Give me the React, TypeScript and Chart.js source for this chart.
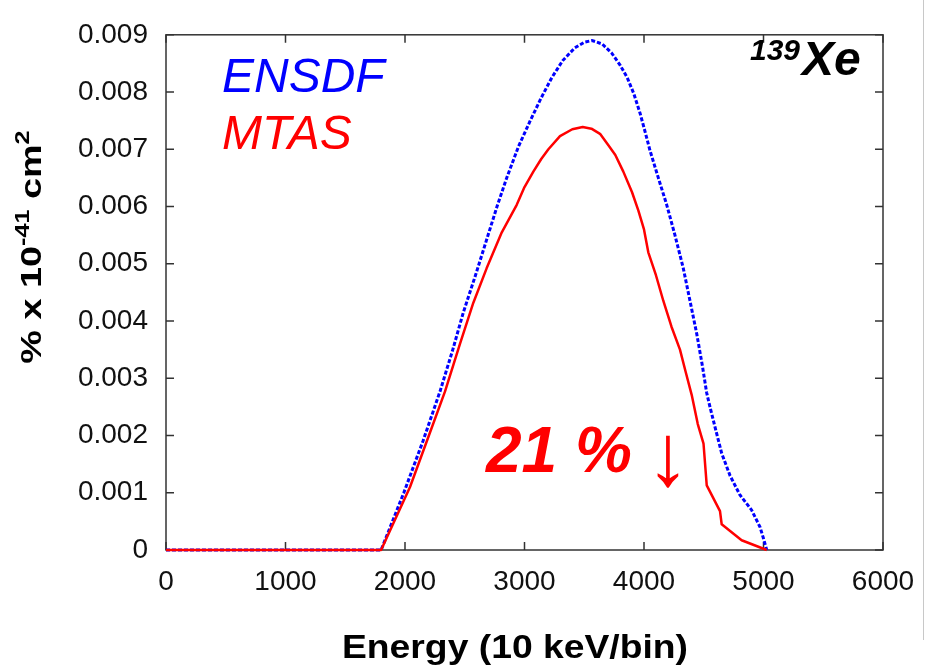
import React, { useEffect, useRef } from "react";
import { Chart, registerables } from "chart.js";

Chart.register(...registerables);

// ---- data ----
const ensdfEnergy = [0, 1800, 1990, 2150, 2293, 2400, 2488, 2590, 2680, 2770, 2851, 2950, 3046, 3140, 3228, 3320, 3420, 3500, 3565, 3650, 3730, 3800, 3860, 3915, 3967, 4010, 4050, 4120, 4190, 4259, 4329, 4390, 4441, 4490, 4524, 4552, 4600, 4650, 4720, 4803, 4900, 4971, 5000, 5027];
const ensdfValue = [0, 0, 0.001, 0.0019, 0.00277, 0.0035, 0.00415, 0.0048, 0.0054, 0.006, 0.0065, 0.00705, 0.00749, 0.0079, 0.00825, 0.00855, 0.00877, 0.00887, 0.0089, 0.00884, 0.00868, 0.00847, 0.00825, 0.00797, 0.00763, 0.0073, 0.00698, 0.0065, 0.00603, 0.0055, 0.00492, 0.0043, 0.00378, 0.0032, 0.00275, 0.0025, 0.0021, 0.00169, 0.0013, 0.00096, 0.0007, 0.0004, 0.0002, 0];

const mtasEnergy = [0, 1800, 2042, 2200, 2335, 2460, 2572, 2683, 2810, 2935, 3000, 3074, 3140, 3200, 3297, 3400, 3487, 3560, 3632, 3702, 3760, 3827, 3900, 3953, 4000, 4036, 4100, 4162, 4230, 4301, 4350, 4399, 4450, 4498, 4525, 4636, 4650, 4817, 5027];
const mtasValue = [0, 0, 0.0011, 0.002, 0.00277, 0.0036, 0.00432, 0.00492, 0.00555, 0.00603, 0.00634, 0.00661, 0.00683, 0.007, 0.00723, 0.00735, 0.00739, 0.00736, 0.00727, 0.00707, 0.0069, 0.00661, 0.00625, 0.00593, 0.0056, 0.0052, 0.0048, 0.00435, 0.0039, 0.0035, 0.0031, 0.00271, 0.0022, 0.00186, 0.00113, 0.00068, 0.00045, 0.00017, 0];

const xTicks = [0, 1000, 2000, 3000, 4000, 5000, 6000];
const yTicks = [0, 0.001, 0.002, 0.003, 0.004, 0.005, 0.006, 0.007, 0.008, 0.009];

const seriesNames = ["ENSDF", "MTAS"];
const nuclideMass = "139";
const nuclideSymbol = "Xe";
const reductionText = "21 %";
const arrowText = "\u2193";
const xTitle = "Energy (10 keV/bin)";

const FONT = '"Liberation Sans", Arial, Helvetica, sans-serif';

function drawStretched(ctx: CanvasRenderingContext2D, parts: { t: string; font: string; dy: number }[], cx: number, cy: number, sx: number, rotate: boolean) {
  ctx.save();
  ctx.translate(cx, cy);
  if (rotate) ctx.rotate(-Math.PI / 2);
  ctx.scale(sx, 1);
  let total = 0;
  const widths = parts.map((p) => {
    ctx.font = p.font;
    const w = ctx.measureText(p.t).width;
    total += w;
    return w;
  });
  let x = -total / 2;
  ctx.textBaseline = "alphabetic";
  ctx.textAlign = "left";
  parts.forEach((p, i) => {
    ctx.font = p.font;
    ctx.fillText(p.t, x, p.dy);
    x += widths[i];
  });
  ctx.restore();
}

const framePlugin = {
  id: "frame",
  beforeDatasetsDraw(chart: any) {
    const { ctx, chartArea, scales } = chart;
    const { left, right, top, bottom } = chartArea;
    ctx.save();
    ctx.strokeStyle = "#333";
    ctx.lineWidth = 1.5;
    ctx.strokeRect(left, top, right - left, bottom - top);
    ctx.beginPath();
    const L = 8;
    xTicks.forEach((v) => {
      const px = scales.x.getPixelForValue(v);
      ctx.moveTo(px, bottom);
      ctx.lineTo(px, bottom - L);
      ctx.moveTo(px, top);
      ctx.lineTo(px, top + L);
    });
    yTicks.forEach((v) => {
      const py = scales.y.getPixelForValue(v);
      ctx.moveTo(left, py);
      ctx.lineTo(left + L, py);
      ctx.moveTo(right, py);
      ctx.lineTo(right - L, py);
    });
    ctx.stroke();
    ctx.restore();
  },
  afterDraw(chart: any) {
    const ctx: CanvasRenderingContext2D = chart.ctx;
    ctx.save();
    ctx.fillStyle = "#000";
    // y title
    drawStretched(
      ctx,
      [
        { t: "% x 10", font: `bold 30px ${FONT}`, dy: 0 },
        { t: "-41", font: `bold 20px ${FONT}`, dy: -12 },
        { t: " cm", font: `bold 30px ${FONT}`, dy: 0 },
        { t: "2", font: `bold 20px ${FONT}`, dy: -12 },
      ],
      41,
      247,
      1.26,
      true
    );
    // x title
    drawStretched(ctx, [{ t: xTitle, font: `bold 33px ${FONT}`, dy: 0 }], 515, 658, 1.13, false);

    ctx.textAlign = "left";
    ctx.textBaseline = "alphabetic";
    ctx.font = `italic 48px ${FONT}`;
    ctx.fillStyle = "#0000ff";
    ctx.fillText(seriesNames[0], 222, 92);
    ctx.fillStyle = "#ff0000";
    ctx.fillText(seriesNames[1], 222, 149);

    ctx.fillStyle = "#000";
    ctx.font = `bold italic 30px ${FONT}`;
    ctx.fillText(nuclideMass, 750, 60);
    ctx.font = `bold italic 48px ${FONT}`;
    ctx.fillText(nuclideSymbol, 802, 75);

    ctx.fillStyle = "#ff0000";
    ctx.font = `bold italic 64px ${FONT}`;
    ctx.fillText(reductionText, 486, 472);
    ctx.font = `88px ${FONT}`;
    ctx.textAlign = "center";
    ctx.fillText(arrowText, 668, 485);
    ctx.restore();
  },
};

export default function App() {
  const ref = useRef<HTMLCanvasElement | null>(null);
  useEffect(() => {
    if (!ref.current) return;
    const chart = new Chart(ref.current, {
      type: "line",
      data: {
        datasets: [
          {
            label: seriesNames[1],
            data: mtasEnergy.map((e, i) => ({ x: e, y: mtasValue[i] })),
            borderColor: "#ff0000",
            borderWidth: 2.5,
            pointRadius: 0,
            tension: 0,
            borderJoinStyle: "round",
            fill: false,
            order: 0,
            clip: false as any,
          },
          {
            label: seriesNames[0],
            data: ensdfEnergy.map((e, i) => ({ x: e, y: ensdfValue[i] })),
            borderColor: "#0000ff",
            borderWidth: 3,
            borderDash: [4, 2],
            pointRadius: 0,
            tension: 0,
            fill: false,
            order: 1,
            clip: false as any,
          },
        ],
      },
      options: {
        animation: false,
        responsive: false,
        maintainAspectRatio: false,
        devicePixelRatio: 1,
        layout: { padding: { top: 19, right: 51, left: 0, bottom: 0 } },
        plugins: { legend: { display: false }, tooltip: { enabled: false } },
        scales: {
          x: {
            type: "linear",
            min: 0,
            max: 6000,
            afterBuildTicks: (s: any) => {
              s.ticks = xTicks.map((v) => ({ value: v }));
            },
            afterFit: (s: any) => {
              s.height = 117;
            },
            grid: { display: false, drawTicks: false },
            border: { display: false },
            ticks: {
              padding: 15,
              color: "#111",
              font: { family: FONT, size: 28 },
              maxRotation: 0,
              autoSkip: false,
              callback: (v: any) => String(v),
            },
          },
          y: {
            type: "linear",
            min: 0,
            max: 0.009,
            afterBuildTicks: (s: any) => {
              s.ticks = yTicks.map((v) => ({ value: v }));
            },
            afterFit: (s: any) => {
              s.width = 166;
            },
            grid: { display: false, drawTicks: false },
            border: { display: false },
            ticks: {
              padding: 18,
              color: "#111",
              font: { family: FONT, size: 28 },
              autoSkip: false,
              callback: (v: any) => (Number(v) === 0 ? "0" : Number(v).toFixed(3)),
            },
          },
        },
      },
      plugins: [framePlugin],
    });
    return () => chart.destroy();
  }, []);

  return (
    <div style={{ position: "absolute", left: 0, top: 0, width: 934, height: 667, background: "#fff" }}>
      <canvas ref={ref} width={934} height={667} style={{ display: "block" }} />
      <div style={{ position: "absolute", left: 923, top: 0, width: 1, height: 640, background: "#c8c8c8" }} />
    </div>
  );
}
